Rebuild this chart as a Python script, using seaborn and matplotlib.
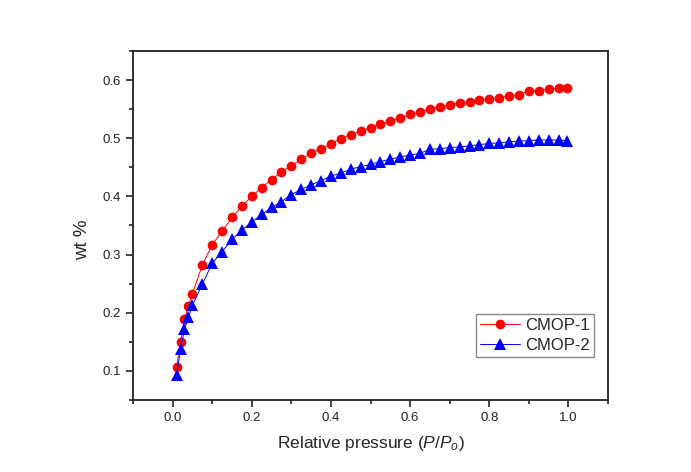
import numpy as np
import pandas as pd
import matplotlib
matplotlib.use("Agg")
import matplotlib.pyplot as plt
from matplotlib.ticker import MultipleLocator
import seaborn as sns

# pressões relativas (P/Po)
pressao = [0.01, 0.02, 0.03, 0.04, 0.05, 0.075, 0.1, 0.125, 0.15, 0.175,
           0.2, 0.225, 0.25, 0.275, 0.3, 0.325, 0.35, 0.375, 0.4, 0.425,
           0.45, 0.475, 0.5, 0.525, 0.55, 0.575, 0.6, 0.625, 0.65, 0.675,
           0.7, 0.725, 0.75, 0.775, 0.8, 0.825, 0.85, 0.875, 0.9, 0.925,
           0.95, 0.975, 0.995]

cmop1 = [0.106, 0.150, 0.189, 0.212, 0.233, 0.282, 0.317, 0.340, 0.364, 0.383,
         0.400, 0.415, 0.429, 0.442, 0.453, 0.464, 0.474, 0.482, 0.490, 0.499,
         0.506, 0.512, 0.518, 0.524, 0.529, 0.535, 0.541, 0.545, 0.550, 0.554,
         0.557, 0.561, 0.563, 0.566, 0.568, 0.570, 0.573, 0.575, 0.581, 0.582,
         0.584, 0.586, 0.587]

cmop2 = [0.093, 0.137, 0.172, 0.192, 0.213, 0.249, 0.285, 0.305, 0.326, 0.342,
         0.356, 0.369, 0.381, 0.391, 0.403, 0.412, 0.420, 0.427, 0.435, 0.440,
         0.447, 0.451, 0.455, 0.460, 0.464, 0.468, 0.471, 0.474, 0.481, 0.482,
         0.484, 0.485, 0.487, 0.489, 0.491, 0.492, 0.494, 0.495, 0.496, 0.497,
         0.497, 0.497, 0.496]

sns.set_style("ticks")
plt.rcParams['font.family'] = ['Liberation Sans', 'DejaVu Sans']
plt.rcParams['mathtext.fontset'] = 'custom'
plt.rcParams['mathtext.rm'] = 'Liberation Sans'
plt.rcParams['mathtext.it'] = 'Liberation Sans:italic'

fig = plt.figure(figsize=(6.91, 4.72), dpi=100)
ax = fig.add_axes([0.1925, 0.1525, 0.6875, 0.7395])

sns.lineplot(x=pressao, y=cmop1, ax=ax, color='red', marker='o', markersize=7,
             markeredgewidth=0, linewidth=0.7, label='CMOP-1')
sns.lineplot(x=pressao, y=cmop2, ax=ax, color='blue', marker='^', markersize=8,
             markeredgewidth=0, linewidth=0.7, label='CMOP-2')

ax.set_xlim(-0.1, 1.1)
ax.set_ylim(0.05, 0.65)
ax.xaxis.set_minor_locator(MultipleLocator(0.1))
ax.yaxis.set_minor_locator(MultipleLocator(0.05))
ax.set_xticks(np.arange(0, 1.01, 0.2))
ax.set_yticks(np.arange(0.1, 0.61, 0.1))
ax.tick_params(which='major', direction='out', length=5, width=1.2, labelsize=9.5,
               top=False, right=False, colors='#222222')
ax.tick_params(which='minor', direction='out', length=3, width=1.2,
               top=False, right=False, color='#222222')
for s in ax.spines.values():
    s.set_linewidth(1.3)
    s.set_color('#222222')

ax.set_xlabel(r'Relative pressure ($P/P_o$)', fontsize=12.5, labelpad=7)
ax.set_ylabel('wt %', fontsize=13.5)
ax.yaxis.set_label_coords(-0.088, 0.458)

leg = ax.legend(loc='lower right', bbox_to_anchor=(0.9705, 0.123), fontsize=12,
                fancybox=False, framealpha=1, edgecolor='#888888',
                borderpad=0.25, handlelength=2.4, handletextpad=0.3,
                labelspacing=0.3, borderaxespad=0)
leg.get_frame().set_linewidth(1.0)

fig.savefig('out.png', dpi=100)
